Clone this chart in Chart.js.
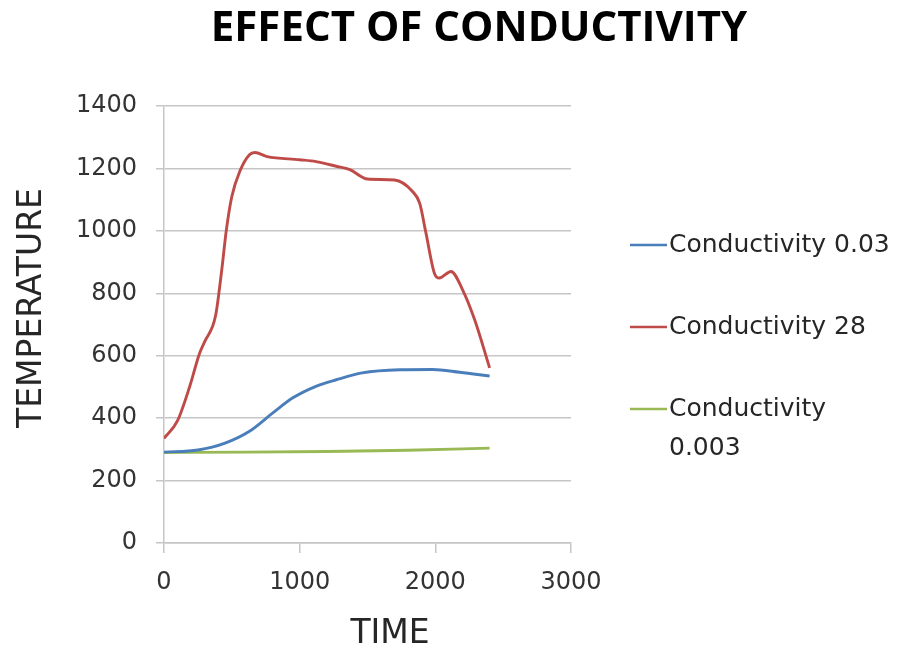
<!DOCTYPE html>
<html>
<head>
<meta charset="utf-8">
<script src="https://cdn.jsdelivr.net/npm/chart.js@4/dist/chart.umd.min.js"></script>
<style>
  html, body { margin: 0; padding: 0; background: #ffffff; }
  canvas { display: block; }
</style>
</head>
<body>
<canvas id="chart" width="902" height="653"></canvas>
<script>
// Text
const chartTitle = 'EFFECT OF CONDUCTIVITY';
const xAxisTitle = 'TIME';
const yAxisTitle = 'TEMPERATURE';
const seriesLabels = ['Conductivity 0.03', 'Conductivity 28', 'Conductivity 0.003'];

// Axis ranges and tick steps
const xRange = [0, 3000];
const xStep = 1000;
const yRange = [0, 1400];
const yStep = 200;

// Conductivity 0.03
const timeMid = [0, 250, 450, 630, 800, 950, 1120, 1270, 1460, 1740, 1980, 2180, 2400];
const tempMid = [291, 298, 320, 358, 416, 465, 502, 523, 545, 555, 556, 547, 535];

// Conductivity 28
const timeHigh = [0, 100, 190, 260, 300, 380, 423, 460, 500, 560, 630, 670, 760, 1000, 1120, 1270, 1370, 1500, 1700, 1830, 1885, 1930, 1995, 2030, 2115, 2200, 2290, 2400];
const tempHigh = [335, 392, 502, 605, 645, 728, 865, 1004, 1110, 1192, 1244, 1251, 1238, 1228, 1222, 1207, 1196, 1166, 1163, 1127, 1088, 995, 862, 849, 870, 812, 715, 561];

// Conductivity 0.003
const timeLow = [0, 600, 1200, 1800, 2400];
const tempLow = [290, 291, 293, 297, 304];

const seriesColors = ['#4a7ebb', '#be4b48', '#98b954'];

const toPoints = (xs, ys) => xs.map((x, i) => ({ x: x, y: ys[i] }));

const FONT = '"DejaVu Sans", sans-serif';
const GRID = '#c6c6c6';

// Chart heading and the two axis captions
const captionsPlugin = {
  id: 'captions',
  afterDraw(chart) {
    const ctx = chart.ctx;
    const area = chart.chartArea;
    ctx.save();
    ctx.textAlign = 'center';
    ctx.textBaseline = 'middle';

    ctx.font = 'bold 42px "Open Sans", sans-serif';
    ctx.fillStyle = '#000000';
    ctx.fillText(chartTitle, 479, 29);

    ctx.font = '33px ' + FONT;
    ctx.fillStyle = '#262626';
    ctx.fillText(xAxisTitle, area.left + 226, 634);

    ctx.translate(32, area.top + 202);
    ctx.rotate(-Math.PI / 2);
    ctx.fillText(yAxisTitle, 0, 0);
    ctx.restore();
  }
};

// Legend at the right: a line swatch followed by the series name, wrapped to the canvas edge
const sideLegendPlugin = {
  id: 'sideLegend',
  afterDraw(chart) {
    const ctx = chart.ctx;
    const area = chart.chartArea;
    const swatchX = area.right + 59;
    const swatchW = 37;
    const textX = swatchX + swatchW + 2;
    const maxW = chart.width - textX - 4;
    const itemGap = 82;
    const lineGap = 39;
    let y = area.top + 139;
    ctx.save();
    ctx.font = '25px ' + FONT;
    ctx.textBaseline = 'middle';
    ctx.textAlign = 'left';
    chart.data.datasets.forEach(ds => {
      ctx.strokeStyle = ds.borderColor;
      ctx.lineWidth = 2.5;
      ctx.beginPath();
      ctx.moveTo(swatchX, y);
      ctx.lineTo(swatchX + swatchW, y);
      ctx.stroke();
      const words = ds.label.split(' ');
      const lines = [];
      let cur = '';
      words.forEach(w => {
        const test = cur ? cur + ' ' + w : w;
        if (cur && ctx.measureText(test).width > maxW) { lines.push(cur); cur = w; }
        else cur = test;
      });
      lines.push(cur);
      ctx.fillStyle = '#262626';
      lines.forEach((ln, i) => ctx.fillText(ln, textX, y + i * lineGap));
      y += itemGap + (lines.length - 1) * lineGap;
    });
    ctx.restore();
  }
};

const plainNumber = v => String(v);

new Chart(document.getElementById('chart'), {
  type: 'line',
  data: {
    datasets: [
      { label: seriesLabels[0], data: toPoints(timeMid, tempMid), borderColor: seriesColors[0] },
      { label: seriesLabels[1], data: toPoints(timeHigh, tempHigh), borderColor: seriesColors[1] },
      { label: seriesLabels[2], data: toPoints(timeLow, tempLow), borderColor: seriesColors[2] }
    ]
  },
  options: {
    responsive: false,
    animation: false,
    layout: { padding: { left: 10, right: 331, top: 106, bottom: 0 } },
    elements: {
      point: { radius: 0, hoverRadius: 0 },
      line: { borderWidth: 2.9, fill: false, cubicInterpolationMode: 'monotone', capBezierPoints: true }
    },
    plugins: {
      legend: { display: false },
      title: { display: false },
      tooltip: { enabled: false }
    },
    scales: {
      x: {
        type: 'linear',
        min: xRange[0],
        max: xRange[1],
        afterFit(scale) { scale.height = 110; },
        ticks: { stepSize: xStep, callback: plainNumber, color: '#333333', font: { family: FONT, size: 24 }, padding: 15, maxRotation: 0 },
        grid: { drawOnChartArea: false, drawTicks: true, tickLength: 10, color: GRID, lineWidth: 1.5 },
        border: { color: GRID, width: 1.5 }
      },
      y: {
        type: 'linear',
        min: yRange[0],
        max: yRange[1],
        afterFit(scale) { scale.width = 154; },
        ticks: { stepSize: yStep, callback: plainNumber, color: '#333333', font: { family: FONT, size: 24 }, padding: 19 },
        grid: { tickLength: 8, color: GRID, lineWidth: 1.5 },
        border: { color: GRID, width: 1.5 }
      }
    }
  },
  plugins: [captionsPlugin, sideLegendPlugin]
});
</script>
</body>
</html>
